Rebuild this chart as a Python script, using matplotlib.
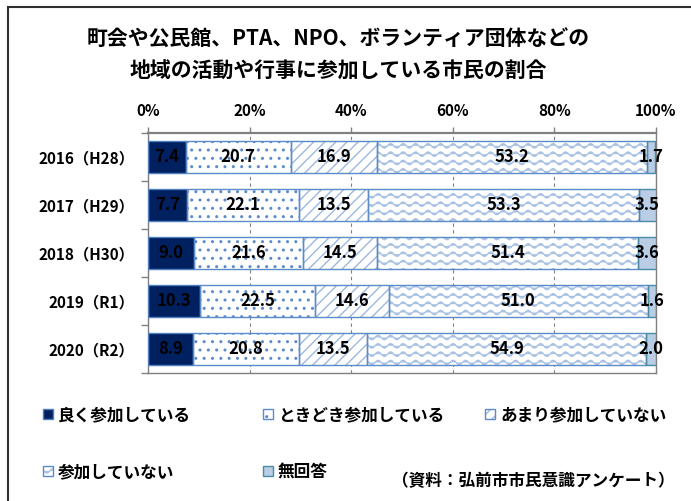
import matplotlib
matplotlib.use("Agg")
import matplotlib.pyplot as plt
import matplotlib.hatch as mhatch
from matplotlib.legend_handler import HandlerTuple
from matplotlib.patches import Rectangle
from matplotlib.path import Path
import numpy as np

plt.rcParams['font.family'] = ['Noto Sans CJK JP', 'DejaVu Sans']
plt.rcParams['font.weight'] = 'bold'
plt.rcParams['hatch.linewidth'] = 1.0

years = ["2016（H28）", "2017（H29）", "2018（H30）", "2019（R1）", "2020（R2）"]
often = [7.4, 7.7, 9.0, 10.3, 8.9]
sometimes = [20.7, 22.1, 21.6, 22.5, 20.8]
rarely = [16.9, 13.5, 14.5, 14.6, 13.5]
never = [53.2, 53.3, 51.4, 51.0, 54.9]
no_answer = [1.7, 3.5, 3.6, 1.6, 2.0]
series_names = ["良く参加している", "ときどき参加している", "あまり参加していない",
                "参加していない", "無回答"]
x_ticks = [0, 20, 40, 60, 80, 100]


# wavy hatch: takes the place of the '|' pattern
class WaveHatch(mhatch.HatchPatternBase):
    def __init__(self, hatch, density):
        self.num_lines = int(hatch.count('|') * density)
        self.num_pts = 97
        self.num_vertices = self.num_lines * self.num_pts

    def set_vertices_and_codes(self, vertices, codes):
        t = np.linspace(0.0, 1.0, self.num_pts)
        for i in range(self.num_lines):
            y0 = (i + 0.5) / self.num_lines
            sl = slice(i * self.num_pts, (i + 1) * self.num_pts)
            vertices[sl, 0] = t
            vertices[sl, 1] = y0 + 0.022 * np.sin(2 * np.pi * 8 * t)
            codes[sl] = Path.LINETO
            codes[i * self.num_pts] = Path.MOVETO


mhatch._hatch_types = [WaveHatch if h is mhatch.VerticalHatch else h
                       for h in mhatch._hatch_types]

# (face, hatch, hatch colour, edge colour)
styles = [
    ('#002060', None, '#002060', '#4F7FBF'),
    ('white', '..', '#5B8BC9', '#5B8BC9'),
    ('white', '///', '#9DB8DF', '#5B8BC9'),
    ('white', '||', '#A9C2E4', '#5B8BC9'),
    ('#B9CDE5', None, '#B9CDE5', '#4A8CA6'),
]

fig = plt.figure(figsize=(6.91, 5.01), dpi=100)
ax = fig.add_axes([148 / 691, 1 - 373 / 501, 508 / 691, 240 / 501])

y = np.arange(len(years))
left = np.zeros(len(years))
handles = []
for vals, (face, hatch, hcol, ecol) in zip(
        [often, sometimes, rarely, never, no_answer], styles):
    vals = np.array(vals)
    b1 = ax.barh(y, vals, left=left, height=0.67, color=face,
                 edgecolor=hcol, linewidth=0, hatch=hatch, zorder=2)
    b2 = ax.barh(y, vals, left=left, height=0.67, fill=False,
                 edgecolor=ecol, linewidth=1.0, zorder=3)
    ax.bar_label(b2, labels=[f"{v:.1f}" for v in vals], label_type='center',
                 fontsize=12, fontweight='bold', color='black', zorder=4)
    handles.append((b1, b2))
    left += vals

ax.set_xlim(0, 100)
ax.set_ylim(len(years) - 0.5, -0.5)
ax.set_xticks(x_ticks)
ax.set_xticklabels([f"{t}%" for t in x_ticks])
ax.xaxis.tick_top()
ax.tick_params(axis='x', length=4, width=1, color='#808080', pad=6,
               labelsize=11)
ax.set_yticks(y)
ax.set_yticklabels(years)
ax.set_yticks(np.arange(-0.5, len(years)), minor=True)
ax.tick_params(axis='y', which='major', length=0, pad=10, labelsize=11)
ax.tick_params(axis='y', which='minor', length=5, width=1, color='#808080')
ax.grid(axis='x', color='#808080', linestyle=(0, (3, 3)), linewidth=0.8,
        zorder=0)
for side in ['left', 'right', 'bottom']:
    ax.spines[side].set_color('#808080')
    ax.spines[side].set_linewidth(1.0)
ax.spines['top'].set_color('#808080')
ax.spines['top'].set_linewidth(1.6)

fig.text(338 / 691, 1 - 55 / 501,
         "町会や公民館、PTA、NPO、ボランティア団体などの\n地域の活動や行事に参加している市民の割合",
         ha='center', va='center', fontsize=15, fontweight='bold',
         linespacing=1.6)

legend_pos = [(43, 415), (263, 415), (485, 415), (43, 472), (263, 472)]
for h, name, (px, py) in zip(handles, series_names, legend_pos):
    fig.legend([h], [name], loc='center left',
               bbox_to_anchor=(px / 691, 1 - py / 501),
               handler_map={tuple: HandlerTuple(ndivide=1)},
               frameon=False, fontsize=12, handlelength=0.6,
               handleheight=0.6, handletextpad=0.3, borderpad=0,
               borderaxespad=0)

fig.text(675 / 691, 1 - 481 / 501, "（資料：弘前市市民意識アンケート）",
         ha='right', va='center', fontsize=12, fontweight='bold')

fig.patches.append(Rectangle((8 / 691, -0.05), 1.2, 1.05 - 7 / 501,
                             transform=fig.transFigure, fill=False,
                             edgecolor='#303030', linewidth=1.5))

fig.savefig("out.png", dpi=100)
